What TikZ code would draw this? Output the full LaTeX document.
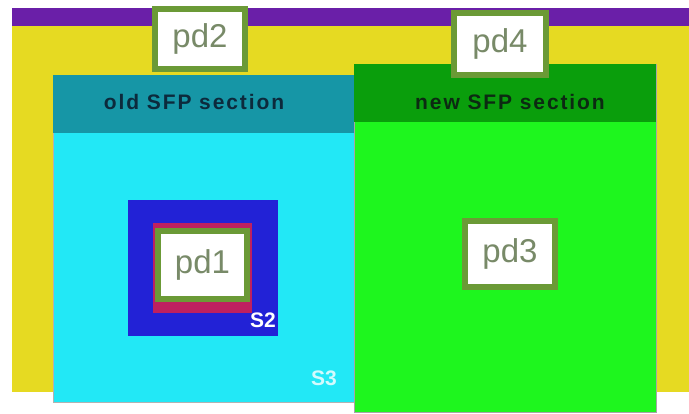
\documentclass[tikz,border=0pt]{standalone}
\usepackage{fontspec}
\setmainfont{Liberation Sans}
\newfontfamily\headfont[LetterSpace=9]{Liberation Sans}
\usetikzlibrary{positioning,shadows}
\definecolor{barpurple}{HTML}{6A1FA8}
\definecolor{bgyellow}{HTML}{E6DA22}
\definecolor{oldcyan}{HTML}{22E8F6}
\definecolor{oldteal}{HTML}{1696A6}
\definecolor{newdark}{HTML}{0A9E0C}
\definecolor{newlime}{HTML}{1EF61E}
\definecolor{sblue}{HTML}{2222D6}
\definecolor{scrimson}{HTML}{BE2060}
\definecolor{pdgreen}{HTML}{6B9A36}
\definecolor{pdtext}{HTML}{788A68}
\definecolor{oldtext}{HTML}{0C2A3C}
\definecolor{newtext}{HTML}{0C2A12}

\begin{document}
\begin{tikzpicture}[
    x=1pt, y=-1pt,
    area/.style={
        rectangle,
        anchor=north west,
        inner sep=0pt,
        outer sep=0pt
    },
    pdbox/.style={
        rectangle,
        draw=pdgreen,
        line width=6pt,
        fill=white,
        inner sep=0pt,
        text=pdtext,
        font=\fontsize{33}{33}\selectfont
    },
    headlabel/.style={
        font=\headfont\bfseries\fontsize{21}{21}\selectfont
    },
    slabel/.style={
        text=white,
        font=\bfseries\fontsize{21}{21}\selectfont
    }
]

\useasboundingbox (0,0) rectangle (689,414);

% background
\node[area, fill=bgyellow, minimum width=677, minimum height=366] (yellow) at (12,26) {};
\node[area, fill=barpurple, minimum width=677, minimum height=18] (bar) at (12,8) {};

% old SFP section
\node[area, fill=oldcyan, draw=gray!60, line width=0.6pt, minimum width=301, minimum height=327] (oldsec) at (53,75) {};
\node[area, fill=oldteal, minimum width=301, minimum height=58] (oldhead) at (53,75) {};
\node[headlabel, text=oldtext] (oldtitle) at (194,102) {old SFP section};

% new SFP section
\node[area, fill=newlime, draw=gray!70, line width=0.6pt, minimum width=302, minimum height=348] (newsec) at (354,64) {};
\node[area, fill=newdark, minimum width=302, minimum height=58] (newhead) at (354,64) {};
\node[headlabel, text=newtext] (newtitle) at (510,102) {new SFP section};

% S2 block
\node[area, fill=sblue, minimum width=150, minimum height=136] (s2box) at (128,200) {};
\node[area, fill=scrimson, minimum width=99, minimum height=90] (inner) at (153,223) {};
\node[slabel] (s2) at (263,320) {S2};
\node[slabel, text=white!80!oldcyan] (s3) at (324,378) {S3};

% power domains
\node[pdbox, minimum width=89, minimum height=68] (pd1) at (202.5,265) {pd1};
\node[pdbox, minimum width=90, minimum height=60, drop shadow={opacity=0.25}] (pd2) at (200,39) {pd2};
\node[pdbox, minimum width=92, minimum height=62, drop shadow={opacity=0.25}] (pd4) at (500,44) {pd4};
\node[pdbox, minimum width=90, minimum height=66, drop shadow={opacity=0.3}] (pd3) at (510,254) {pd3};

\end{tikzpicture}
\end{document}
